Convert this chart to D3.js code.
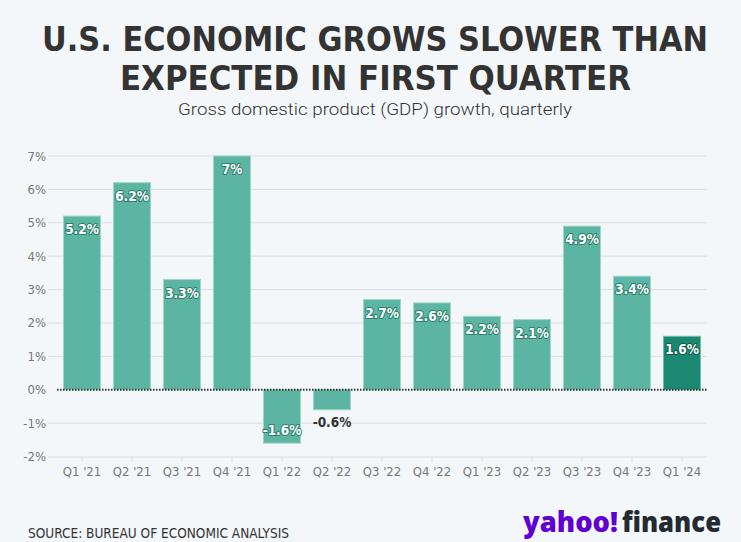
<!DOCTYPE html>
<html>
<head>
<meta charset="utf-8">
<script src="https://cdn.jsdelivr.net/npm/d3@7"></script>
<style>
  html, body { margin: 0; padding: 0; background: #f3f7fa; }
  svg { display: block; }
</style>
</head>
<body>
<svg id="chart" width="741" height="542"></svg>
<script>
const categories = ["Q1 '21","Q2 '21","Q3 '21","Q4 '21","Q1 '22","Q2 '22","Q3 '22","Q4 '22","Q1 '23","Q2 '23","Q3 '23","Q4 '23","Q1 '24"];
const gdpGrowth = [5.2, 6.2, 3.3, 7, -1.6, -0.6, 2.7, 2.6, 2.2, 2.1, 4.9, 3.4, 1.6];
const valueLabels = ["5.2%","6.2%","3.3%","7%","-1.6%","-0.6%","2.7%","2.6%","2.2%","2.1%","4.9%","3.4%","1.6%"];
const yTicks = [-2, -1, 0, 1, 2, 3, 4, 5, 6, 7];
const titleLines = ["U.S. ECONOMIC GROWS SLOWER THAN", "EXPECTED IN FIRST QUARTER"];
const subtitle = "Gross domestic product (GDP) growth, quarterly";
const source = "SOURCE: BUREAU OF ECONOMIC ANALYSIS";

const svg = d3.select("#chart");
const W = 741, H = 542;
svg.append("rect").attr("width", W).attr("height", H).attr("fill", "#f3f7fa");

const narrow = "'Liberation Sans Narrow', 'DejaVu Sans Condensed', 'Roboto Condensed', Arial, sans-serif";

// Title
const sy = 1.12;
svg.append("text").attr("transform", `scale(1,${sy})`).attr("text-anchor", "middle")
  .attr("x", 375).attr("y", 51 / sy)
  .attr("font-family", narrow).attr("font-weight", 700).attr("font-size", 30)
  .attr("fill", "#333333").attr("textLength", 666).attr("lengthAdjust", "spacingAndGlyphs")
  .text(titleLines[0]);
svg.append("text").attr("transform", `scale(1,${sy})`).attr("text-anchor", "middle")
  .attr("x", 375.5).attr("y", 90.5 / sy)
  .attr("font-family", narrow).attr("font-weight", 700).attr("font-size", 30)
  .attr("fill", "#333333").attr("textLength", 511).attr("lengthAdjust", "spacingAndGlyphs")
  .text(titleLines[1]);

svg.append("text").attr("x", 375).attr("y", 115).attr("text-anchor", "middle")
  .attr("font-family", "Roboto, 'Liberation Sans', sans-serif").attr("font-weight", 300).attr("font-size", 17)
  .attr("fill", "#333333").attr("textLength", 394).attr("lengthAdjust", "spacingAndGlyphs")
  .text(subtitle);

// Scales
const x = d3.scaleBand().domain(categories).range([57, 707]).paddingInner(0.26).paddingOuter(0.13);
const y = d3.scaleLinear().domain([-2, 7]).range([456.5, 156]);

// Gridlines
const grid = svg.append("g");
grid.selectAll("line").data(yTicks.filter(d => d !== 0 && d !== -2)).join("line")
  .attr("x1", 48).attr("x2", 707)
  .attr("y1", d => y(d)).attr("y2", d => y(d))
  .attr("stroke", "#dcdfe3").attr("stroke-width", 1);

// Y tick labels
svg.append("g").selectAll("text").data(yTicks).join("text")
  .attr("x", 46).attr("y", d => y(d) + 4.5).attr("text-anchor", "end")
  .attr("font-family", narrow).attr("font-size", 13).attr("fill", "#777777")
  .text(d => d + "%");

// Bottom axis
const xAxis = d3.axisBottom(x).tickSize(5).tickSizeOuter(0);
const gx = svg.append("g").attr("transform", `translate(0,${y(-2)})`).call(xAxis);
gx.select(".domain").attr("d", `M48,0.5H707`).attr("stroke", "#dcdfe3");
gx.selectAll(".tick line").attr("stroke", "#dcdfe3");
gx.selectAll(".tick text").attr("font-family", narrow).attr("font-size", 13)
  .attr("fill", "#777777").attr("dy", "0.9em");

// Bars
const last = categories.length - 1;
svg.append("g").selectAll("rect").data(gdpGrowth).join("rect")
  .attr("x", (d, i) => x(categories[i]))
  .attr("width", x.bandwidth())
  .attr("y", d => y(Math.max(0, d)))
  .attr("height", d => Math.abs(y(d) - y(0)))
  .attr("fill", (d, i) => i === last ? "#1b8872" : "#5bb5a2")
  .attr("stroke", (d, i) => i === last ? "#6cc0ad" : "#9fd6c8")
  .attr("stroke-width", 1);

// Zero line
svg.append("line").attr("x1", 57).attr("x2", 707).attr("y1", y(0)).attr("y2", y(0))
  .attr("stroke", "#333").attr("stroke-width", 2).attr("stroke-dasharray", "1.5,1.5");

// Value labels
const outside = d => d < 0 && Math.abs(y(d) - y(0)) <= 25;
svg.append("g").selectAll("text").data(gdpGrowth).join("text")
  .attr("x", (d, i) => x(categories[i]) + x.bandwidth() / 2)
  .attr("y", d => {
    if (d >= 0) return y(d) + 18;
    if (!outside(d)) return y(d) - 8;
    return y(d) + 17;
  })
  .attr("text-anchor", "middle")
  .attr("font-family", narrow).attr("font-weight", 700).attr("font-size", 13.5)
  .attr("fill", d => outside(d) ? "#333333" : "#ffffff")
  .attr("stroke", (d, i) => outside(d) ? "none" : (i === last ? "#0f5e4e" : "#2f7f6e"))
  .attr("stroke-width", 2).attr("paint-order", "stroke").attr("stroke-linejoin", "round")
  .text((d, i) => valueLabels[i]);

// Source
svg.append("text").attr("x", 28).attr("y", 538)
  .attr("font-family", narrow).attr("font-size", 14).attr("fill", "#333333")
  .attr("textLength", 261).attr("lengthAdjust", "spacingAndGlyphs")
  .text(source);

// Logo
svg.append("text").attr("x", 523).attr("y", 532)
  .attr("font-family", "'Open Sans', 'Liberation Sans', sans-serif").attr("font-weight", 800).attr("font-size", 29)
  .attr("fill", "#6001d2").attr("textLength", 95).attr("lengthAdjust", "spacingAndGlyphs")
  .text("yahoo!");
svg.append("text").attr("x", 622).attr("y", 532)
  .attr("font-family", "'Open Sans', 'Liberation Sans', sans-serif").attr("font-weight", 800).attr("font-size", 29)
  .attr("fill", "#232a31").attr("textLength", 99).attr("lengthAdjust", "spacingAndGlyphs")
  .text("finance");
</script>
</body>
</html>
